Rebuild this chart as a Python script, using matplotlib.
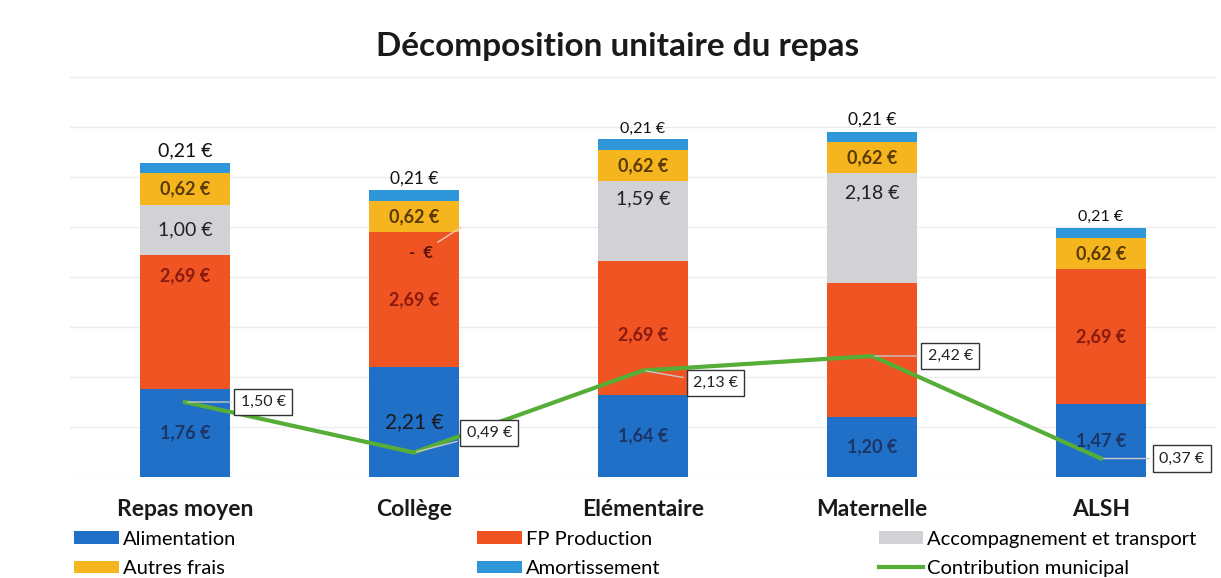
import matplotlib
matplotlib.use("Agg")
import matplotlib.pyplot as plt
import numpy as np

# ---- data -------------------------------------------------------------------
categories = ["Repas moyen", "Collège", "Elémentaire", "Maternelle", "ALSH"]
alimentation = [1.76, 2.21, 1.64, 1.20, 1.47]
fp_production = [2.69, 2.69, 2.69, 2.69, 2.69]
accompagnement = [1.00, 0.00, 1.59, 2.18, 0.00]
autres_frais = [0.62, 0.62, 0.62, 0.62, 0.62]
amortissement = [0.21, 0.21, 0.21, 0.21, 0.21]
contribution = [1.50, 0.49, 2.13, 2.42, 0.37]

C_ALIM = "#2170c8"
C_FP = "#ef5422"
C_ACC = "#d2d2d6"
C_AUT = "#f5b51e"
C_AMO = "#2d97d9"
C_LINE = "#56ad37"

plt.rcParams["font.family"] = ["Lato", "DejaVu Sans"]


def eur(v):
    return f"{v:.2f} €".replace(".", ",")


fig = plt.figure(figsize=(12.21, 5.78), dpi=100)
ax = fig.add_axes([0.0577, 0.1747, 0.9378, 0.6921])
x = np.arange(len(categories))
w = 0.39

series = [
    ("Alimentation", alimentation, C_ALIM),
    ("FP Production", fp_production, C_FP),
    ("Accompagnement et transport", accompagnement, C_ACC),
    ("Autres frais", autres_frais, C_AUT),
    ("Amortissement", amortissement, C_AMO),
]
bottoms = np.zeros(len(categories))
handles = {}
seg = {}
for name, vals, col in series:
    vals = np.array(vals)
    handles[name] = ax.bar(x, vals, w, bottom=bottoms, color=col, label=name, zorder=2)
    seg[name] = (bottoms.copy(), vals)
    bottoms = bottoms + vals

line, = ax.plot(x, contribution, color=C_LINE, lw=3, zorder=4, label="Contribution municipal")

# ---- segment labels ---------------------------------------------------------
b, v = seg["Alimentation"]
for i in range(len(x)):
    if i == 1:
        ax.text(x[i], b[i] + v[i] / 2, eur(v[i]), ha="center", va="center",
                fontsize=15, color="#1a1a1a", zorder=5)
    else:
        ax.text(x[i], b[i] + v[i] / 2, eur(v[i]), ha="center", va="center",
                fontsize=13, fontweight="bold", color="#1b3566", zorder=5)

b, v = seg["FP Production"]
fp_pos = [0.84, 0.5, 0.45, None, 0.5]  # relative height inside segment
for i in range(len(x)):
    if fp_pos[i] is None:
        continue
    ax.text(x[i], b[i] + v[i] * fp_pos[i], eur(v[i]), ha="center", va="center",
            fontsize=13, fontweight="bold", color="#8a1a10", zorder=5)

b, v = seg["Accompagnement et transport"]
acc_pos = [0.5, None, 0.78, 0.82, None]
for i in range(len(x)):
    if acc_pos[i] is None:
        continue
    ax.text(x[i], b[i] + v[i] * acc_pos[i], eur(v[i]), ha="center", va="center",
            fontsize=14, color="#222222", zorder=5)
# zero value on Collège
ax.annotate("-  €", xy=(x[1] + w / 2 + 0.02, b[1] + 0.12), xytext=(x[1] + 0.03, b[1] - 0.42),
            ha="center", va="center", fontsize=12, fontweight="bold", color="#5a1208",
            arrowprops=dict(arrowstyle="-", color="#f2c9bd", lw=1), zorder=5)

b, v = seg["Autres frais"]
for i in range(len(x)):
    ax.text(x[i], b[i] + v[i] / 2, eur(v[i]), ha="center", va="center",
            fontsize=13, fontweight="bold", color="#5a3a05", zorder=5)

b, v = seg["Amortissement"]
amo_size = [14, 12.5, 11.5, 12.5, 11.5]
for i in range(len(x)):
    ax.text(x[i], b[i] + v[i] + 0.08, eur(v[i]), ha="center", va="bottom",
            fontsize=amo_size[i], color="#111111", zorder=5)

# ---- line labels ------------------------------------------------------------
offsets = [(40, 0), (38, 14), (36, -9), (40, 0), (42, 0)]
for i, val in enumerate(contribution):
    ax.annotate(eur(val), xy=(x[i], val), xytext=offsets[i], textcoords="offset points",
                ha="left", va="center", fontsize=11.5, color="#222222",
                bbox=dict(boxstyle="square,pad=0.4", fc="white", ec="#333333", lw=1),
                arrowprops=dict(arrowstyle="-", color="#c8c8c8", lw=1), zorder=6)

# ---- axes -------------------------------------------------------------------
ax.set_xlim(-0.5, len(categories) - 0.5)
ax.set_ylim(0, 8)
ax.set_yticks(np.arange(0, 9, 1))
ax.yaxis.grid(True, color="#ececec", lw=1, zorder=0)
ax.set_yticklabels([])
ax.tick_params(axis="y", length=0)
ax.tick_params(axis="x", length=0, pad=16)
ax.set_xticks(x)
ax.set_xticklabels(categories, fontsize=16.5, fontweight="bold", color="#1a1a1a")
for s in ax.spines.values():
    s.set_visible(False)

fig.text(0.506, 0.919, "Décomposition unitaire du repas", ha="center", va="center",
         fontsize=24, fontweight="bold", color="#1a1a1a")

# ---- legend: three columns placed by hand -----------------------------------
cols = [
    (0.061, [handles["Alimentation"], handles["Autres frais"]], ["Alimentation", "Autres frais"]),
    (0.391, [handles["FP Production"], handles["Amortissement"]], ["FP Production", "Amortissement"]),
    (0.720, [handles["Accompagnement et transport"], line],
     ["Accompagnement et transport", "Contribution municipal"]),
]
for xa, hs, ls in cols:
    fig.legend(hs, ls, loc="upper left", bbox_to_anchor=(xa, 0.082), frameon=False,
               fontsize=14.5, handlelength=2.2, handleheight=0.55, handletextpad=0.2,
               labelspacing=0.62, borderaxespad=0, borderpad=0)

fig.savefig("out.png", dpi=100)
